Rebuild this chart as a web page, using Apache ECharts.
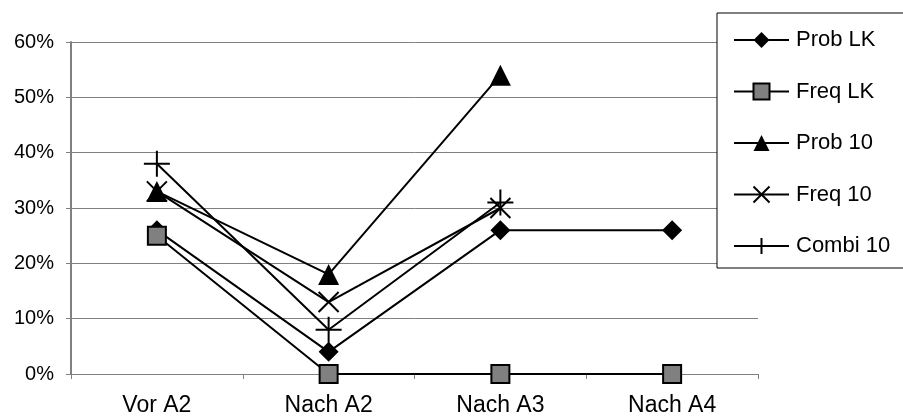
<!DOCTYPE html>
<html>
<head>
<meta charset="utf-8">
<script src="https://cdn.jsdelivr.net/npm/echarts@6/dist/echarts.min.js"></script>
<style>
  html, body { margin: 0; padding: 0; background: #fff; }
  #chart { width: 903px; height: 419px; }
</style>
</head>
<body>
<div id="chart"></div>
<script>
// Stage categories along the x axis
const categories = ['Vor A2', 'Nach A2', 'Nach A3', 'Nach A4'];

// Shares per stage (percent); null = no value for that stage
const probLK  = [26, 4, 26, 26];
const freqLK  = [25, 0, 0, 0];
const prob10  = [33, 18, 54, null];
const freq10  = [33, 13, 30, null];
const combi10 = [38, 8, 31, null];

// Y axis ticks
const yTicks = [0, 10, 20, 30, 40, 50, 60];

const FONT = '"Liberation Sans", Arial, sans-serif';
const crossPath = 'path://M0,0L10,10M10,0L0,10';
const plusPath = 'path://M5,0L5,10M0,5L10,5';

function makeSeries(name, data, symbol, size, itemStyle) {
  return {
    name: name,
    type: 'line',
    data: data,
    symbol: symbol,
    symbolSize: size,
    connectNulls: false,
    lineStyle: { color: '#000', width: 2 },
    itemStyle: itemStyle,
    emphasis: { disabled: true },
    animation: false
  };
}

const chart = echarts.init(document.getElementById('chart'), null, { renderer: 'canvas' });
chart.setOption({
  backgroundColor: '#fff',
  animation: false,
  grid: { left: 71, right: 145, top: 42, bottom: 45, containLabel: false },
  xAxis: {
    type: 'category',
    data: categories,
    boundaryGap: true,
    axisLine: { lineStyle: { color: '#808080', width: 1 } },
    axisTick: { show: true, length: 5, lineStyle: { color: '#808080' } },
    axisLabel: { color: '#000', fontFamily: FONT, fontSize: 23, margin: 20 }
  },
  yAxis: {
    type: 'value',
    min: yTicks[0],
    max: yTicks[yTicks.length - 1],
    interval: 10,
    axisLine: { show: true, lineStyle: { color: '#808080', width: 2 } },
    axisTick: { show: true, length: 5, lineStyle: { color: '#808080' } },
    axisLabel: {
      color: '#000', fontFamily: FONT, fontSize: 20, margin: 17,
      formatter: function (v) { return v + '%'; }
    },
    splitLine: { show: true, lineStyle: { color: '#808080', width: 1 } }
  },
  legend: {
    orient: 'vertical',
    left: 717,
    top: 13,
    width: 200,
    padding: [16, 60, 11, 16],
    backgroundColor: '#fff',
    borderColor: '#000',
    borderWidth: 1,
    borderRadius: 0,
    itemWidth: 55,
    itemHeight: 20,
    itemGap: 29.5,
    textStyle: { color: '#000', fontFamily: FONT, fontSize: 22, padding: [0, 0, 0, 2] },
    data: ['Prob LK', 'Freq LK', 'Prob 10', 'Freq 10', 'Combi 10']
  },
  series: [
    makeSeries('Prob LK', probLK, 'diamond', 20, { color: '#000' }),
    makeSeries('Freq LK', freqLK, 'rect', 18, { color: '#808080', borderColor: '#000', borderWidth: 2 }),
    makeSeries('Prob 10', prob10, 'triangle', 21, { color: '#000' }),
    makeSeries('Freq 10', freq10, crossPath, 20, { color: 'none', borderColor: '#000', borderWidth: 2 }),
    makeSeries('Combi 10', combi10, plusPath, 26, { color: 'none', borderColor: '#000', borderWidth: 2 })
  ]
});
</script>
</body>
</html>
